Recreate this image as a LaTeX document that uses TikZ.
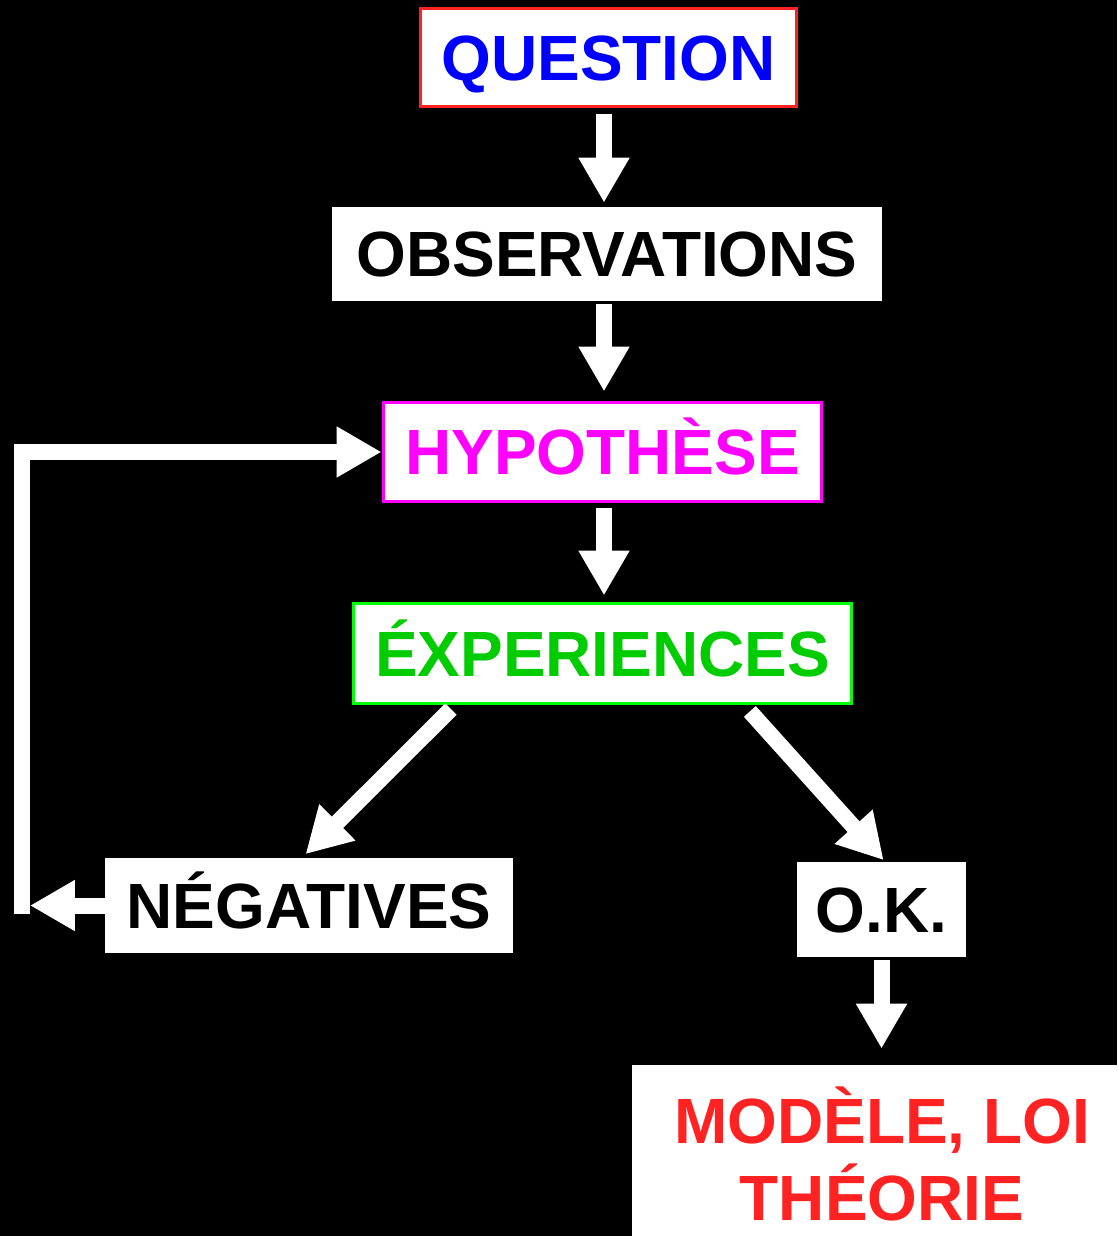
\documentclass[tikz,border=0pt]{standalone}
\usepackage{fontspec}
\setmainfont{Liberation Sans}
\usepackage{xcolor}
\usetikzlibrary{arrows.meta,calc,positioning}
\definecolor{qred}{RGB}{255,34,34}
\definecolor{qblue}{RGB}{0,0,255}
\definecolor{hmag}{RGB}{255,0,255}
\definecolor{egreen}{RGB}{0,255,0}
\definecolor{etext}{RGB}{0,204,0}
\tikzset{
  box/.style={fill=white,inner sep=0pt,font=\fontsize{36.4}{43.7}\selectfont\bfseries,text height=26pt,text depth=0pt},
  bigarrow/.style={draw=white,line width=0.32cm,-{Triangle[width=0.96cm,length=0.9cm]}},
}

\begin{document}
\begin{tikzpicture}[x=0.02cm,y=-0.02cm]
        \fill[black] (0,0) rectangle (1117,1236);
        \clip (0,0) rectangle (1117,1236);
        \coordinate (spine) at (604,0);
        \node[box,draw=qred,line width=0.06cm,text=qblue,minimum width=7.54cm,minimum height=1.98cm] (question) at (608.5,57.5) {QUESTION};
        \node[box,text=black,minimum width=11cm,minimum height=1.88cm] (obs) at (607,254) {OBSERVATIONS};
        \node[box,draw=hmag,line width=0.06cm,text=hmag,minimum width=8.78cm,minimum height=2cm] (hyp) at (602.5,452) {HYPOTHÈSE};
        \node[box,draw=egreen,line width=0.06cm,text=etext,minimum width=9.98cm,minimum height=2.02cm] (exp) at (602.5,653.5) {ÉXPERIENCES};
        \node[box,text=black,minimum width=8.16cm,minimum height=1.9cm] (neg) at (309,905.5) {NÉGATIVES};
        \node[box,text=black,minimum width=3.38cm,minimum height=1.9cm] (ok) at (881.5,909.5) {O.K.};
        \node[fill=white,inner sep=0pt,font=\fontsize{36.4}{43.7}\selectfont\bfseries,text=qred,align=center,minimum width=10cm,minimum height=3.56cm] (model) at (882,1154) {MODÈLE, LOI\\THÉORIE};
        \coordinate (corner) at (22,905.5);
        \draw[bigarrow,shorten <=0.12cm,shorten >=0.08cm] (question.south -| spine) -- (obs.north -| spine);
        \draw[bigarrow,shorten <=0.06cm,shorten >=0.18cm] (obs.south -| spine) -- (hyp.north -| spine);
        \draw[bigarrow,shorten <=0.1cm,shorten >=0.12cm] (hyp.south -| spine) -- (exp.north -| spine);
        \draw[bigarrow,shorten <=0.1cm,shorten >=0.1cm] ($(exp.south)+(-148,0)$) -- ($(neg.north)+(-7,0)$);
        \draw[bigarrow,shorten <=0.16cm,shorten >=0.04cm] ($(exp.south)+(142,0)$) -- ($(ok.north)+(3.5,0)$);
        \draw[bigarrow,shorten <=0.06cm,shorten >=0.32cm] (ok.south) -- (model.north -| ok.south);
        \draw[bigarrow,shorten >=0.16cm] (neg.west) -- (corner);
        \draw[bigarrow] ($(corner)+(0,8)$) |- (hyp.west);
    \end{tikzpicture}
\end{document}
